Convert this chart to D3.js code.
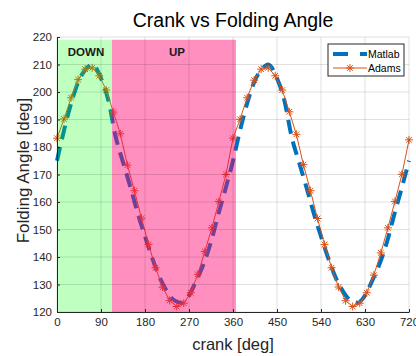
<!DOCTYPE html>
<html>
<head>
<meta charset="utf-8">
<script src="https://cdn.jsdelivr.net/npm/d3@7"></script>
<style>
  body { margin: 0; background: #fff; }
  svg { font-family: "Liberation Sans", Arial, sans-serif; }
</style>
</head>
<body>
<div class="chart"></div>
<script>
var svgWidth = 416;
var svgHeight = 356;

var margin = { top: 37, right: 7, bottom: 44, left: 57 };
var width = svgWidth - margin.left - margin.right;
var height = svgHeight - margin.top - margin.bottom;

// crank angles [deg]
var matlabCrank = [0, 15, 30, 45, 60, 72, 90, 105, 120, 135, 150, 165, 180, 195, 210, 225, 240, 255, 270, 285, 300, 315, 330, 345,
  360, 375, 390, 405, 420, 432, 450, 465, 480, 495, 510, 525, 540, 555, 570, 585, 600, 615, 630, 645, 660, 675, 690, 705, 720];
var matlabAngle = [175, 186.5, 196.5, 204.3, 208.5, 210, 205, 197, 183.7, 174.5, 165.5, 156, 147.5, 139.5, 132.5, 127.5, 124.2, 123.3, 126, 131.5, 137.5, 145.5, 155.5, 165,
  175, 186.5, 196.5, 204.3, 208.5, 210, 205, 197, 183.7, 174.5, 165.5, 156, 147.5, 139.5, 132.5, 127.5, 124.2, 123.3, 126, 131.5, 137.5, 145.5, 155.5, 165, 175];

var adamsCrank = [0, 14.4, 28.8, 43.2, 57.6, 72, 86.4, 100.8, 115.2, 129.6, 144, 158.4, 172.8, 187.2, 201.6, 216, 230.4, 244.8, 259.2, 273.6, 288, 302.4, 316.8, 331.2, 345.6,
  360, 374.4, 388.8, 403.2, 417.6, 432, 446.4, 460.8, 475.2, 489.6, 504, 518.4, 532.8, 547.2, 561.6, 576, 590.4, 604.8, 619.2, 633.6, 648, 662.4, 676.8, 691.2, 705.6, 720];
var adamsAngle = [183.2, 190.2, 197.9, 204.5, 208.3, 208.8, 205.9, 200.7, 192.7, 184.8, 173.4, 164.1, 154.1, 144.6, 136.1, 129, 124.2, 122, 123.2, 127, 133.7, 142, 150.6, 160.2, 170,
  183.2, 190.1, 197.9, 204.3, 208.3, 208.8, 205.9, 200.7, 192.8, 184.6, 173.6, 164.1, 154, 144.5, 136.1, 129.1, 124.1, 122, 123.2, 127, 133.4, 141.5, 150.6, 160.2, 170.1, 182.6];

var xTicks = [0, 90, 180, 270, 360, 450, 540, 630, 720];
var yTicks = [120, 130, 140, 150, 160, 170, 180, 190, 200, 210, 220];

// shaded phases
var phaseNames = ["DOWN", "UP"];
var phaseStart = [0, 112.5];
var phaseEnd = [112.5, 366];
var phaseTop = 219;

var svg = d3.select(".chart")
  .append("svg")
  .attr("width", svgWidth)
  .attr("height", svgHeight);

var g = svg.append("g")
  .attr("transform", `translate(${margin.left}, ${margin.top})`);

var x = d3.scaleLinear().domain([0, 720]).range([0, width]);
var y = d3.scaleLinear().domain([120, 220]).range([height, 0]);

// lines first, patches are see-through on top
var matlabData = matlabCrank.map((c, i) => ({ c: c, v: matlabAngle[i] }));
var adamsData = adamsCrank.map((c, i) => ({ c: c, v: adamsAngle[i] }));

var line = d3.line()
  .x(d => x(d.c))
  .y(d => y(d.v))
  .curve(d3.curveMonotoneX);

g.append("path")
  .attr("d", line(matlabData))
  .attr("fill", "none")
  .attr("stroke", "#0072BD")
  .attr("stroke-width", 4)
  .attr("stroke-dasharray", "14,8");

g.append("path")
  .attr("d", d3.line().x(d => x(d.c)).y(d => y(d.v))(adamsData))
  .attr("fill", "none")
  .attr("stroke", "#D95319")
  .attr("stroke-width", 1);

function star(r) {
  var a = r * 0.707;
  return `M${-r},0L${r},0M0,${-r}L0,${r}M${-a},${-a}L${a},${a}M${-a},${a}L${a},${-a}`;
}

g.selectAll(".mark")
  .data(adamsData)
  .enter().append("path")
  .attr("class", "mark")
  .attr("transform", d => `translate(${x(d.c)},${y(d.v)})`)
  .attr("d", star(4))
  .attr("stroke", "#D95319")
  .attr("stroke-width", 1)
  .attr("fill", "none");

var phaseFill = ["rgba(0,255,0,0.25)", "rgba(255,0,110,0.44)"];
g.selectAll(".phase")
  .data(phaseNames)
  .enter().append("rect")
  .attr("class", "phase")
  .attr("x", (d, i) => x(phaseStart[i]))
  .attr("width", (d, i) => x(phaseEnd[i]) - x(phaseStart[i]))
  .attr("y", y(phaseTop))
  .attr("height", y(120) - y(phaseTop))
  .attr("fill", (d, i) => phaseFill[i]);

g.selectAll(".phaseLabel")
  .data(phaseNames)
  .enter().append("text")
  .attr("x", (d, i) => i == 0 ? x(phaseStart[i]) + 29 : x(phaseStart[i]) + 65)
  .attr("y", 19)
  .attr("text-anchor", "middle")
  .attr("font-size", 11.5)
  .attr("font-weight", "bold")
  .attr("fill", "#1a1a1a")
  .text(d => d);

// grid on top
g.append("g")
  .selectAll("line")
  .data(xTicks)
  .enter().append("line")
  .attr("x1", d => x(d)).attr("x2", d => x(d))
  .attr("y1", 0).attr("y2", height)
  .attr("stroke", "rgba(0,0,0,0.12)");

g.append("g")
  .selectAll("line")
  .data(yTicks)
  .enter().append("line")
  .attr("y1", d => y(d)).attr("y2", d => y(d))
  .attr("x1", 0).attr("x2", width)
  .attr("stroke", "rgba(0,0,0,0.12)");

// axes
var bottomAxis = d3.axisBottom(x).tickValues(xTicks).tickSizeInner(-3).tickSizeOuter(0).tickPadding(6);
var leftAxis = d3.axisLeft(y).tickValues(yTicks).tickSizeInner(-3).tickSizeOuter(0).tickPadding(5);

var xg = g.append("g")
  .attr("transform", `translate(0, ${height})`)
  .call(bottomAxis);
var yg = g.append("g").call(leftAxis);

[xg, yg].forEach(function (a) {
  a.selectAll("path").attr("stroke", "#262626");
  a.selectAll("line").attr("stroke", "#262626");
  a.selectAll("text").attr("fill", "#262626").attr("font-size", 11.5)
    .attr("font-family", "Liberation Sans, Arial, sans-serif");
});

// title and labels
svg.append("text")
  .attr("x", margin.left + width / 2)
  .attr("y", 27)
  .attr("text-anchor", "middle")
  .attr("font-size", 19.5)
  .attr("fill", "#000")
  .text("Crank vs Folding Angle");

svg.append("text")
  .attr("x", margin.left + width / 2)
  .attr("y", 350)
  .attr("text-anchor", "middle")
  .attr("font-size", 16.5)
  .attr("fill", "#262626")
  .text("crank [deg]");

svg.append("text")
  .attr("transform", `translate(29, ${margin.top + height / 2 - 4}) rotate(-90)`)
  .attr("text-anchor", "middle")
  .attr("font-size", 17)
  .attr("fill", "#262626")
  .text("Folding Angle [deg]");

// legend
var legend = svg.append("g").attr("transform", "translate(328, 44)");
legend.append("rect")
  .attr("width", 76).attr("height", 32)
  .attr("fill", "#fff")
  .attr("stroke", "#262626")
  .attr("stroke-width", 1);

legend.append("line")
  .attr("x1", 5).attr("x2", 39).attr("y1", 10).attr("y2", 10)
  .attr("stroke", "#0072BD").attr("stroke-width", 4)
  .attr("stroke-dasharray", "15,12");
legend.append("line")
  .attr("x1", 5).attr("x2", 39).attr("y1", 24).attr("y2", 24)
  .attr("stroke", "#D95319").attr("stroke-width", 1);
legend.append("path")
  .attr("transform", "translate(22,24)")
  .attr("d", star(4))
  .attr("stroke", "#D95319")
  .attr("fill", "none");

var legendNames = ["Matlab", "Adams"];
legend.selectAll(".ltext")
  .data(legendNames)
  .enter().append("text")
  .attr("x", 40)
  .attr("y", (d, i) => 14 + i * 14)
  .attr("font-size", 10.5)
  .attr("fill", "#000")
  .text(d => d);
</script>
</body>
</html>
